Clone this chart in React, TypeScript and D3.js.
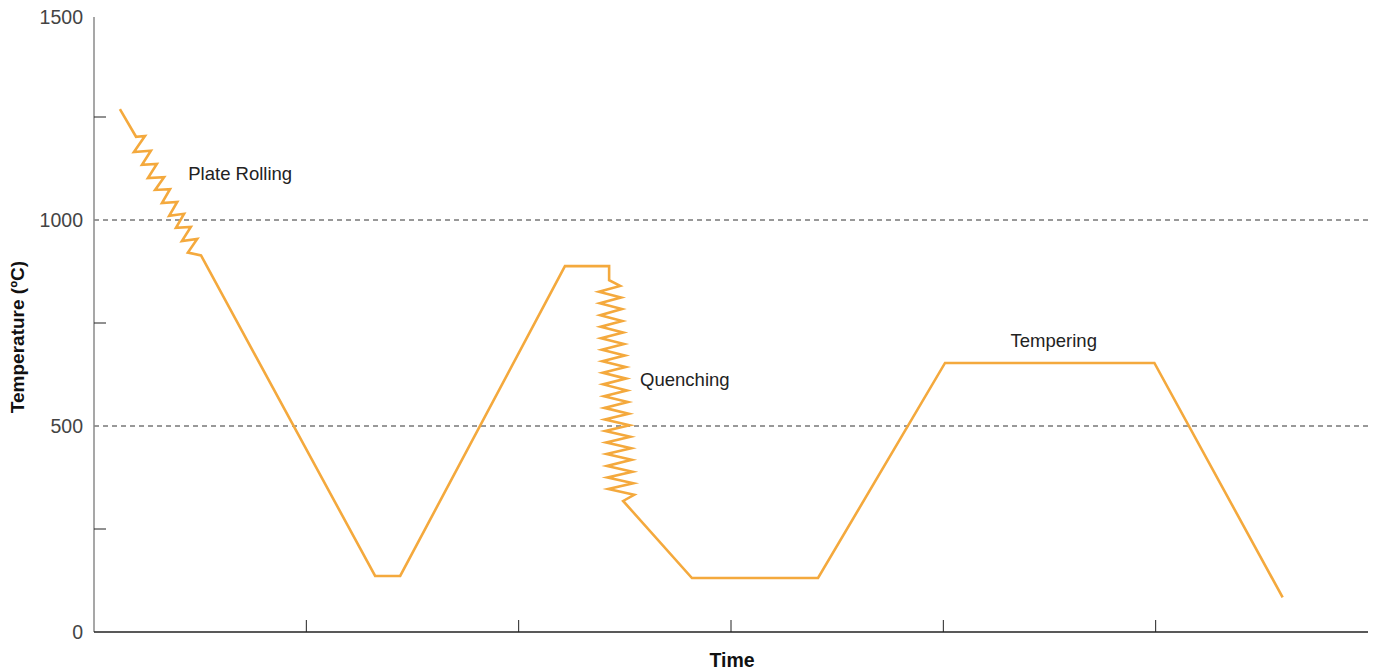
import React from "react";
import * as d3 from "d3";

// Time (arbitrary units) and temperature (°C) of the heat-treatment path
const plateRollingTime = [0.61, 0.99, 1.2, 0.94, 1.34, 1.13, 1.48, 1.27, 1.65, 1.44, 1.79, 1.6, 1.96, 1.77, 2.12, 1.93, 2.28, 2.07, 2.43, 2.21, 2.52];
const plateRollingTemp = [1269, 1202, 1204, 1165, 1168, 1134, 1136, 1102, 1104, 1073, 1075, 1041, 1044, 1010, 1015, 981, 983, 949, 954, 921, 914];

const coolReheatTime = [6.62, 7.21, 11.09, 12.13, 12.13];
const coolReheatTemp = [136, 136, 888, 888, 854];

const quenchTime = [12.39, 11.89, 12.41, 11.91, 12.43, 11.92, 12.44, 11.93, 12.46, 11.94, 12.48, 11.96, 12.5, 11.97, 12.52, 11.98, 12.53, 11.99, 12.55, 12.01, 12.57, 12.02, 12.59, 12.03, 12.61, 12.04, 12.63, 12.06, 12.65, 12.07, 12.66, 12.08, 12.68, 12.09, 12.7, 12.11, 12.72, 12.46];
const quenchTemp = [840, 826, 812, 798, 784, 769, 755, 741, 727, 713, 699, 685, 671, 657, 643, 629, 615, 601, 586, 572, 558, 544, 530, 516, 502, 488, 474, 460, 446, 432, 418, 403, 389, 375, 361, 347, 333, 318];

const temperTime = [14.08, 17.05, 20.04, 24.97, 27.99];
const temperTemp = [131, 131, 653, 653, 84];

const yTickLabels = [0, 500, 1000, 1500];
const yMinorTicks = [250, 750, 1250];
const xTicks = [5, 10, 15, 20, 25];
const gridValues = [500, 1000];

const annotations = [
  { text: "Plate Rolling", t: 2.22, temp: 1112, anchor: "start" },
  { text: "Quenching", t: 12.86, temp: 612, anchor: "start" },
  { text: "Tempering", t: 22.6, temp: 708, anchor: "middle" },
];

const W = 1383;
const H = 671;
const left = 94;
const right = 1368;
const top = 14;
const bottom = 632;
const ORANGE = "#F4A93D";
const FONT = "'Liberation Sans', Arial, Helvetica, sans-serif";

export default function App() {
  const x = d3.scaleLinear().domain([0, 30]).range([left, right]);
  const y = d3.scaleLinear().domain([0, 1500]).range([bottom, top]);

  const pts: [number, number][] = [];
  plateRollingTime.forEach((t, i) => pts.push([t, plateRollingTemp[i]]));
  coolReheatTime.forEach((t, i) => pts.push([t, coolReheatTemp[i]]));
  quenchTime.forEach((t, i) => pts.push([t, quenchTemp[i]]));
  temperTime.forEach((t, i) => pts.push([t, temperTemp[i]]));

  const line = d3
    .line<[number, number]>()
    .x((d) => x(d[0]))
    .y((d) => y(d[1]));

  return (
    <svg
      width={W}
      height={H}
      style={{ position: "absolute", left: 0, top: 0, display: "block", background: "#fff" }}
    >
      {gridValues.map((v) => (
        <line
          key={"g" + v}
          x1={left}
          x2={right}
          y1={y(v)}
          y2={y(v)}
          stroke="#333"
          strokeWidth={1}
          strokeDasharray="5,4"
        />
      ))}
      {/* y axis */}
      <line x1={left} x2={left} y1={17} y2={bottom} stroke="#8a8a8a" strokeWidth={1.5} />
      {yMinorTicks.map((v) => (
        <line key={"yt" + v} x1={left} x2={left + 12} y1={y(v)} y2={y(v)} stroke="#222" strokeWidth={1} />
      ))}
      {yTickLabels.map((v) => (
        <text
          key={"yl" + v}
          x={83}
          y={v === 1500 ? 17 : y(v)}
          textAnchor="end"
          dominantBaseline="central"
          fontFamily={FONT}
          fontSize={19.5}
          fill="#444"
        >
          {v}
        </text>
      ))}
      {/* x axis */}
      <line x1={left} x2={right} y1={bottom} y2={bottom} stroke="#222" strokeWidth={1.3} />
      {xTicks.map((v) => (
        <line key={"xt" + v} x1={x(v)} x2={x(v)} y1={bottom - 12} y2={bottom} stroke="#222" strokeWidth={1} />
      ))}
      <text x={732} y={660} textAnchor="middle" dominantBaseline="central" fontFamily={FONT} fontWeight="bold" fontSize={19.5} fill="#111">
        Time
      </text>
      <text
        transform={`translate(17,337) rotate(-90)`}
        textAnchor="middle"
        dominantBaseline="central"
        fontFamily={FONT}
        fontWeight="bold"
        fontSize={19}
        fill="#111"
      >
        Temperature (ºC)
      </text>
      <path d={line(pts) || ""} fill="none" stroke={ORANGE} strokeWidth={2.6} strokeLinejoin="miter" strokeMiterlimit={10} />
      {annotations.map((a) => (
        <text
          key={a.text}
          x={x(a.t)}
          y={y(a.temp)}
          textAnchor={a.anchor as any}
          dominantBaseline="central"
          fontFamily={FONT}
          fontSize={18.5}
          fill="#222"
        >
          {a.text}
        </text>
      ))}
    </svg>
  );
}
